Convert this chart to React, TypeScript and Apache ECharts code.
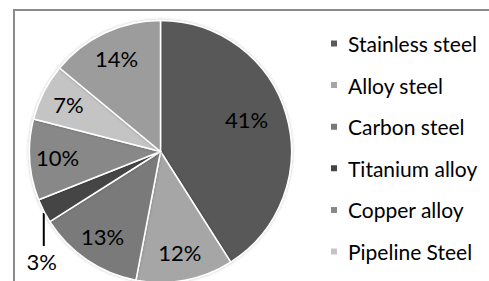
import React, { useEffect, useRef } from "react";
import * as echarts from "echarts";

const categories = [
  "Stainless steel",
  "Alloy steel",
  "Carbon steel",
  "Titanium alloy",
  "Copper alloy",
  "Pipeline Steel",
  "Other",
];
const values = [41, 12, 13, 3, 10, 7, 14];
const colors = ["#595959", "#a6a6a6", "#7a7a7a", "#444444", "#888888", "#c4c4c4", "#9c9c9c"];
const legendItems = categories.slice(0, 6);
const outsideLabelIndex = 3;

const FONT = "Lato";
const CX = 160.5;
const CY = 151.5;
const R = 131;

export default function App() {
  const ref = useRef<HTMLDivElement>(null);
  useEffect(() => {
    if (!ref.current) return;
    const chart = echarts.init(ref.current, null, { renderer: "svg" });
    const data = categories.map((name, i) => ({
      name,
      value: values[i],
      itemStyle: { color: colors[i] },
    }));
    chart.setOption({
      animation: false,
      backgroundColor: "#ffffff",
      graphic: [
        {
          type: "rect",
          shape: { x: 14, y: 10, width: 490, height: 300 },
          style: { fill: "none", stroke: "#8a8a8a", lineWidth: 2 },
          z: 0,
          silent: true,
        },
      ],
      legend: {
        data: legendItems,
        orient: "vertical",
        left: 324,
        top: 28,
        icon: "rect",
        itemWidth: 8,
        itemHeight: 8,
        itemGap: 20.6,
        textStyle: {
          fontFamily: FONT,
          fontSize: 21,
          color: "#000",
          lineHeight: 21,
          padding: [0, 0, 0, 5],
        },
        selectedMode: false,
      },
      series: [
        {
          type: "pie",
          center: [CX, CY],
          radius: [0, R],
          startAngle: 90,
          clockwise: true,
          avoidLabelOverlap: false,
          data: data.map((d, i) => ({
            ...d,
            label: { show: i === outsideLabelIndex },
            labelLine: { show: i === outsideLabelIndex },
          })),
          itemStyle: {
            borderColor: "#ffffff",
            borderWidth: 1.5,
            shadowBlur: 3,
            shadowColor: "rgba(0,0,0,0.25)",
          },
          label: {
            position: "outside",
            formatter: "{c}%",
            fontFamily: FONT,
            fontSize: 22,
            color: "#000",
            overflow: "none",
            width: 60,
          },
          labelLine: {
            length: 5,
            length2: 5,
            lineStyle: { color: "#000", width: 2 },
          },
          labelLayout: (p: any) => {
            if (p.dataIndex !== outsideLabelIndex || !p.labelLinePoints) return {};
            const s = p.labelLinePoints[0];
            return {
              x: s[0] - 2,
              y: s[1] + 51,
              align: "center",
              verticalAlign: "middle",
              labelLinePoints: [
                [s[0], s[1] + 2],
                [s[0], s[1] + 3],
                [s[0], s[1] + 35],
              ],
            };
          },
          emphasis: { disabled: true },
        },
        {
          type: "pie",
          center: [CX, CY],
          radius: [0, R * 1.53],
          startAngle: 90,
          clockwise: true,
          silent: true,
          data: data.map((d, i) => ({
            name: d.name,
            value: d.value,
            itemStyle: { color: "rgba(0,0,0,0)" },
            label: { show: i !== outsideLabelIndex },
          })),
          itemStyle: { borderWidth: 0 },
          label: {
            position: "inside",
            formatter: "{c}%",
            fontFamily: FONT,
            fontSize: 22,
            color: "#000",
          },
          labelLine: { show: false },
          labelLayout: (p: any) => (p.dataIndex === 0 ? { dx: -13, dy: -3 } : {}),
          emphasis: { disabled: true },
        },
      ],
    });
    return () => chart.dispose();
  }, []);
  return (
    <div
      ref={ref}
      style={{ position: "fixed", left: 0, top: 0, width: 489, height: 281 }}
    />
  );
}
